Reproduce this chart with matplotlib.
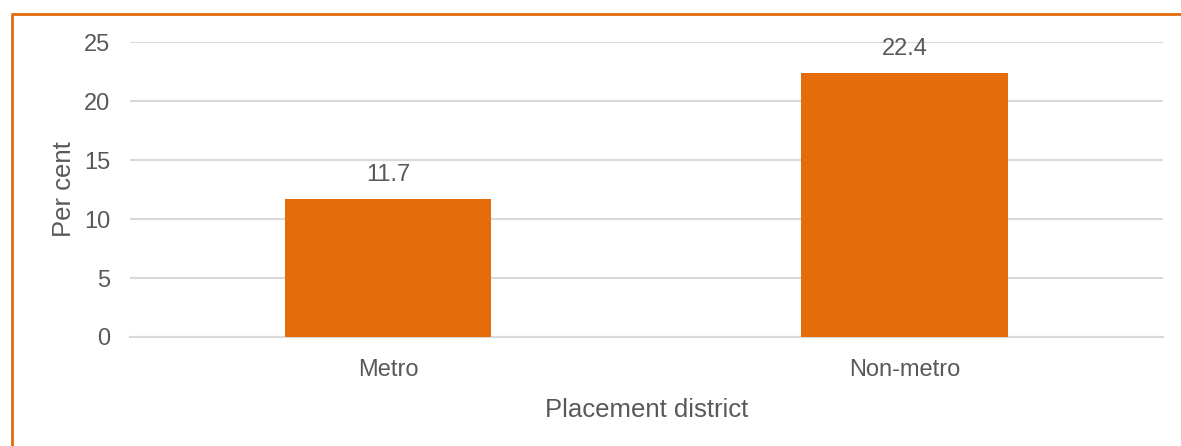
import matplotlib.pyplot as plt
from matplotlib.lines import Line2D

plt.rcParams['font.family'] = ['Liberation Sans', 'DejaVu Sans']

districts = ['Metro', 'Non-metro']
per_cent = [11.7, 22.4]
y_ticks = [0, 5, 10, 15, 20, 25]

bar_col = '#E46C0A'
txt_col = '#595959'
grid_col = '#D9D9D9'

fig = plt.figure(figsize=(11.81, 4.46), dpi=100)
ax = fig.add_axes([0.110, 0.2444, 0.8746, 0.6614])

x = range(len(districts))
bars = ax.bar(x, per_cent, width=0.4, color=bar_col, zorder=3)
ax.set_xlim(-0.5, len(districts) - 0.5)
ax.set_ylim(0, 25)
ax.set_yticks(y_ticks)
ax.set_xticks(list(x))
ax.set_xticklabels(districts)

for b, v in zip(bars, per_cent):
    ax.annotate(f'{v}', (b.get_x() + b.get_width() / 2, v), xytext=(0, 9),
                textcoords='offset points', ha='center', va='bottom',
                fontsize=17, color=txt_col)

ax.grid(axis='y', color=grid_col, linewidth=1.5, zorder=0)
for s in ['top', 'right', 'left']:
    ax.spines[s].set_visible(False)
ax.spines['bottom'].set_color(grid_col)
ax.spines['bottom'].set_linewidth(1.5)
ax.tick_params(axis='both', length=0, labelsize=17, labelcolor=txt_col)
ax.tick_params(axis='y', pad=14)
ax.tick_params(axis='x', pad=16)

ax.set_xlabel('Placement district', fontsize=18.5, color=txt_col, labelpad=12)
ax.set_ylabel('Per cent', fontsize=18.5, color=txt_col, labelpad=6)

# orange frame on left and top
top_y = 1 - 13.5 / 446
left_x = 11.5 / 1181
fig.add_artist(Line2D([left_x, left_x], [0, top_y], transform=fig.transFigure,
                      color=bar_col, linewidth=2, solid_capstyle='butt'))
fig.add_artist(Line2D([left_x - 0.7 / 1181, 1], [top_y, top_y], transform=fig.transFigure,
                      color=bar_col, linewidth=2, solid_capstyle='butt'))

fig.savefig('out.png', dpi=100)
